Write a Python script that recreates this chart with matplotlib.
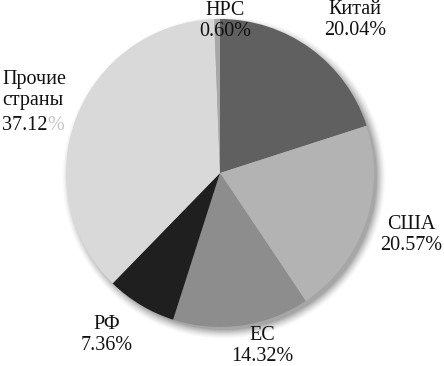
import numpy as np
import matplotlib
matplotlib.use("Agg")
import matplotlib.pyplot as plt

labels = ["Китай", "США", "ЕС", "РФ", "Прочие\nстраны", "НРС"]
values = [20.04, 20.57, 14.32, 7.36, 37.12, 0.60]
colors = ["#606060", "#b3b3b3", "#8d8d8d", "#1f1f1f", "#d9d9d9", "#a8a8a8"]

W, H = 444, 366
fig = plt.figure(figsize=(W / 100, H / 100), dpi=100)
ax = fig.add_axes([0, 0, 1, 1])

cx, cy, r = 220, H - 173, 154

# soft shadow
yy, xx = np.mgrid[0:H, 0:W]
d = np.sqrt((xx - (cx + 3)) ** 2 + ((H - yy) - (cy - 4)) ** 2) - r
alpha = np.clip(1 - (d + 2) / 10, 0, 1) ** 1.5 * 0.35
img = np.zeros((H, W, 4))
img[..., 3] = alpha
ax.imshow(img, extent=(0, W, 0, H), origin="upper", zorder=0)

ax.pie(values, colors=colors, startangle=90, counterclock=False,
       center=(cx, cy), radius=r, frame=True,
       wedgeprops=dict(linewidth=0))
ax.set_xlim(0, W)
ax.set_ylim(0, H)
ax.set_aspect("equal")
ax.axis("off")

font = dict(family=["Liberation Serif", "DejaVu Serif"], fontsize=14.5, color="#111111")

pos = {
    "Китай": (355, 20),
    "США": (411, 235),
    "ЕС": (262, 346),
    "РФ": (107, 335),
    "НРС": (225, 21),
}
for lab, v in zip(labels, values):
    txt = f"{lab}\n{v:.2f}%"
    if lab in pos:
        x, y = pos[lab]
        ax.text(x, H - y, txt, ha="center", va="center", linespacing=1.12, **font)

# Прочие страны label (percent sign partly faded as in reference)
i = labels.index("Прочие\nстраны")
ax.text(2, H - 90, labels[i], ha="left", va="center", linespacing=1.12, **font)
t = ax.text(2, H - 125, f"{values[i]:.2f}", ha="left", va="center", **font)
ax.annotate("%", xy=(1, 0.5), xycoords=t, ha="left", va="center",
            **{**font, "color": "#c4c4c4"})

fig.savefig("out.png", dpi=100)
